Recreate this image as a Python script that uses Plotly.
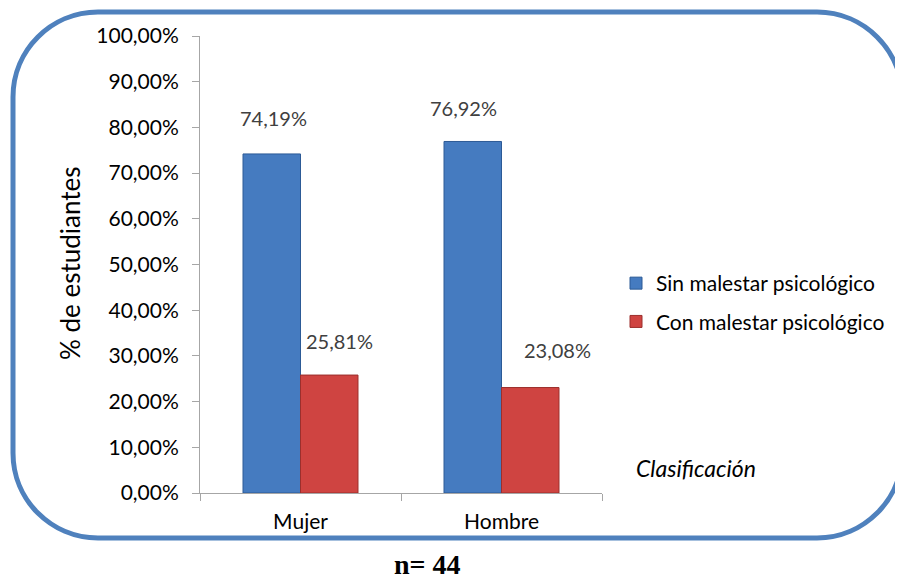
import plotly.graph_objects as go

# ---- data ----
categories = ["Mujer", "Hombre"]
series_names = ["Sin malestar psicológico", "Con malestar psicológico"]
sin_malestar = [74.19, 76.92]
con_malestar = [25.81, 23.08]
y_tick_vals = [0, 10, 20, 30, 40, 50, 60, 70, 80, 90, 100]
y_tick_text = ["0,00%", "10,00%", "20,00%", "30,00%", "40,00%", "50,00%",
               "60,00%", "70,00%", "80,00%", "90,00%", "100,00%"]
y_title = "% de estudiantes"
legend_note = "Clasificación"
sample_note = "n= 44"

# page has an 8px body margin; work in page pixels and convert
OFF = 8
W, H = 903 - OFF, 580 - OFF
L, R, T, B = 200 - OFF, 903 - 602, 36 - OFF, 580 - 493
PW, PH = W - L - R, H - T - B

def px2paper(x, y):
    # x, y in page pixels
    return (x - OFF - L) / PW, (H - B - (y - OFF)) / PH

def fmt(v):
    return f"{v:.2f}%".replace(".", ",")

BLUE = "#457BC0"
BLUE_LINE = "#2C5A96"
RED = "#CF4441"
RED_LINE = "#9C2F2C"
FONT = "Lato"

fig = go.Figure()
fig.add_trace(go.Bar(x=categories, y=sin_malestar, name=series_names[0],
                     legendgroup="a",
                     marker=dict(color=BLUE, line=dict(color=BLUE_LINE, width=1))))
fig.add_trace(go.Bar(x=categories, y=con_malestar, name=series_names[1],
                     legendgroup="b",
                     marker=dict(color=RED, line=dict(color=RED_LINE, width=1))))

# data labels (offsets in pixels, matching reference placement)
shifts_sin = [(-27, 36), (-38, 33)]
shifts_con = [(39, 34), (56, 38)]
for cat, v, (dx, dy) in zip(categories, sin_malestar, shifts_sin):
    fig.add_annotation(x=cat, y=v, xref="x", yref="y", text=fmt(v), showarrow=False,
                       xshift=dx, yshift=dy, font=dict(family=FONT, size=20, color="#404040"))
for cat, v, (dx, dy) in zip(categories, con_malestar, shifts_con):
    fig.add_annotation(x=cat, y=v, xref="x", yref="y", text=fmt(v), showarrow=False,
                       xshift=dx, yshift=dy, font=dict(family=FONT, size=20, color="#404040"))

# y-axis title
tx, ty = px2paper(52, 263)
fig.add_annotation(x=tx, y=ty, xref="paper", yref="paper", text=y_title, showarrow=False,
                   textangle=-90, font=dict(family=FONT, size=26, color="#000000"))
# Clasificación
cx, cy = px2paper(634, 468)
fig.add_annotation(x=cx, y=cy, xref="paper", yref="paper", text=f"<i>{legend_note}</i>",
                   showarrow=False, xanchor="left", yanchor="middle",
                   font=dict(family=FONT, size=23, color="#000000"))
# n = 44
nx, ny = px2paper(427, 564)
fig.add_annotation(x=nx, y=ny, xref="paper", yref="paper", text=f"<b>{sample_note}</b>",
                   showarrow=False, xanchor="center", yanchor="middle",
                   font=dict(family="Liberation Serif", size=28, color="#000000"))

# rounded border (page pixels)
x0, x1, y0, y1, r = 13, 902, 12, 538, 85
k = 0.5523 * r
def P(x, y):
    a, b = px2paper(x, y)
    return f"{a:.5f},{b:.5f}"
path = (
    f"M {P(x0 + r, y0)} L {P(x1 - r, y0)} "
    f"C {P(x1 - r + k, y0)} {P(x1, y0 + r - k)} {P(x1, y0 + r)} "
    f"L {P(x1, y1 - r)} "
    f"C {P(x1, y1 - r + k)} {P(x1 - r + k, y1)} {P(x1 - r, y1)} "
    f"L {P(x0 + r, y1)} "
    f"C {P(x0 + r - k, y1)} {P(x0, y1 - r + k)} {P(x0, y1 - r)} "
    f"L {P(x0, y0 + r)} "
    f"C {P(x0, y0 + r - k)} {P(x0 + r - k, y0)} {P(x0 + r, y0)} Z"
)
fig.add_shape(type="path", path=path, xref="paper", yref="paper",
              line=dict(color="#4F81BD", width=5))

lx, ly = px2paper(616, 263)
fig.update_layout(
    width=W, height=H,
    margin=dict(l=L, r=R, t=T, b=B, pad=0),
    paper_bgcolor="white", plot_bgcolor="white",
    barmode="group", bargap=0.428, bargroupgap=0,
    font=dict(family=FONT, size=20, color="#000000"),
    legend=dict(x=lx, y=ly, xanchor="left", yanchor="top",
                font=dict(family=FONT, size=21, color="#000000"),
                tracegroupgap=8, bgcolor="rgba(0,0,0,0)"),
    xaxis=dict(showline=True, linecolor="#A6A6A6", linewidth=1,
               ticks="outside", tickson="boundaries", ticklen=7, tickcolor="#A6A6A6",
               showgrid=False, zeroline=False, ticklabelstandoff=10,
               tickfont=dict(family=FONT, size=21, color="#000000")),
    yaxis=dict(range=[0, 100], tickvals=y_tick_vals, ticktext=y_tick_text,
               showline=True, linecolor="#A6A6A6", linewidth=1,
               ticks="outside", ticklen=7, tickcolor="#A6A6A6",
               showgrid=False, zeroline=False, ticklabelstandoff=9,
               tickfont=dict(family=FONT, size=21, color="#000000")),
)

fig.write_html("out.html")
